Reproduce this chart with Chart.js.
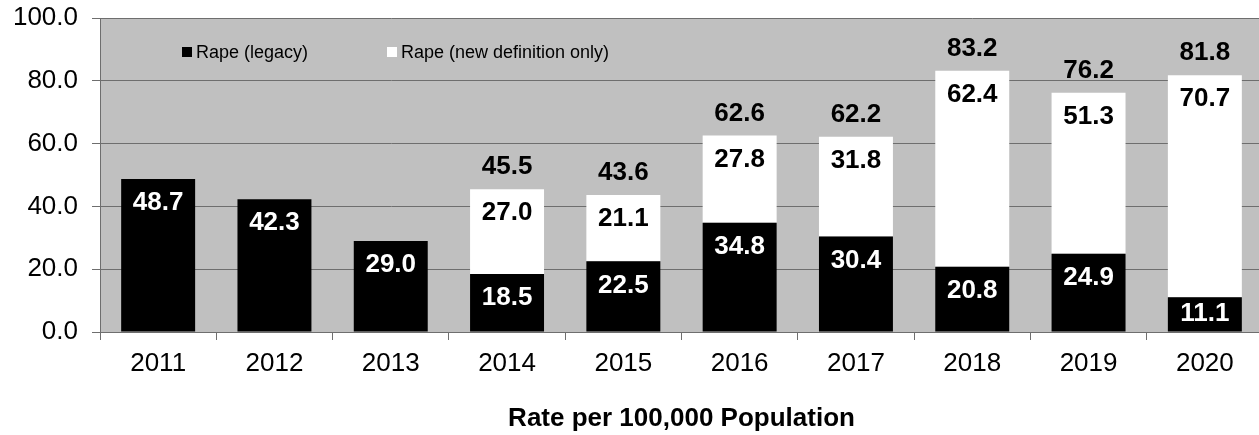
<!DOCTYPE html>
<html>
<head>
<meta charset="utf-8">
<script src="https://cdn.jsdelivr.net/npm/chart.js@4/dist/chart.umd.min.js"></script>
<style>
  html, body { margin: 0; padding: 0; background: #fff; overflow: hidden; }
  #wrap { width: 1263px; height: 435px; position: relative; }
</style>
</head>
<body>
<div id="wrap"><canvas id="rateChart"></canvas></div>
<script>
// Rape rate per 100,000 population, legacy vs new definition

const years = ["2011", "2012", "2013", "2014", "2015", "2016", "2017", "2018", "2019", "2020"];
const legacyRate = [48.7, 42.3, 29.0, 18.5, 22.5, 34.8, 30.4, 20.8, 24.9, 11.1];
const newDefRate = [null, null, null, 27.0, 21.1, 27.8, 31.8, 62.4, 51.3, 70.7];
const yTicks = [0, 20, 40, 60, 80, 100];

const plotGray = "#c0c0c0";
const gridGray = "#6e6e6e";
const fontFam = "'Liberation Sans', Arial, sans-serif";
const labelFont = "bold 26px " + fontFam;

// background of the plot area
const plotBackground = {
  id: "plotBackground",
  beforeDraw(chart) {
    const { ctx, chartArea } = chart;
    ctx.save();
    ctx.fillStyle = plotGray;
    ctx.fillRect(chartArea.left, chartArea.top, chartArea.right - chartArea.left, chartArea.bottom - chartArea.top);
    ctx.restore();
  }
};

// label inset from the top of a segment, centred if the segment is too short
function insideY(el) {
  const h = el.base - el.y;
  return h < 48 ? el.y + h / 2 : el.y + 24;
}

// values in the bars plus totals above the stacked ones
const barLabels = {
  id: "barLabels",
  afterDatasetsDraw(chart) {
    const ctx = chart.ctx;
    const legacyMeta = chart.getDatasetMeta(0);
    const newMeta = chart.getDatasetMeta(1);
    ctx.save();
    ctx.font = labelFont;
    ctx.textAlign = "center";
    ctx.textBaseline = "middle";
    years.forEach((yr, i) => {
      const lb = legacyMeta.data[i];
      ctx.fillStyle = "#ffffff";
      ctx.fillText(legacyRate[i].toFixed(1), lb.x, insideY(lb));
      if (newDefRate[i] != null) {
        const nb = newMeta.data[i];
        ctx.fillStyle = "#000000";
        ctx.fillText(newDefRate[i].toFixed(1), nb.x, insideY(nb));
        const total = legacyRate[i] + newDefRate[i];
        ctx.fillText(total.toFixed(1), nb.x, nb.y - 22);
      }
    });
    ctx.restore();
  }
};

// small legend sitting inside the plot area
const insideLegend = {
  id: "insideLegend",
  afterDraw(chart) {
    const ctx = chart.ctx;
    const left = chart.chartArea.left;
    const top = chart.chartArea.top;
    const items = [
      { text: chart.data.datasets[0].label, color: "#000000", x: left + 82 },
      { text: chart.data.datasets[1].label, color: "#ffffff", x: left + 287 }
    ];
    ctx.save();
    ctx.font = "18px " + fontFam;
    ctx.textBaseline = "middle";
    items.forEach(it => {
      ctx.fillStyle = it.color;
      ctx.fillRect(it.x, top + 29, 10, 10);
      ctx.fillStyle = "#000000";
      ctx.fillText(it.text, it.x + 14, top + 35);
    });
    ctx.restore();
  }
};

new Chart(document.getElementById("rateChart"), {
  type: "bar",
  data: {
    labels: years,
    datasets: [
      {
        label: "Rape (legacy)",
        data: legacyRate,
        backgroundColor: "#000000",
        borderWidth: 0
      },
      {
        label: "Rape (new definition only)",
        data: newDefRate,
        backgroundColor: "#ffffff",
        borderWidth: 0
      }
    ]
  },
  options: {
    responsive: true,
    maintainAspectRatio: false,
    animation: false,
    categoryPercentage: 1.0,
    barPercentage: 0.636,
    layout: {
      padding: { top: 18, right: 0, left: 0, bottom: 0 }
    },
    plugins: {
      legend: { display: false },
      tooltip: { enabled: false }
    },
    scales: {
      x: {
        stacked: true,
        grid: {
          offset: true,
          drawOnChartArea: false,
          drawTicks: true,
          tickLength: 8,
          color: gridGray
        },
        border: { color: gridGray, width: 1 },
        ticks: {
          color: "#000000",
          padding: 8,
          font: { family: fontFam, size: 26 }
        },
        title: {
          display: true,
          text: "Rate per 100,000 Population",
          color: "#000000",
          padding: { top: 10, bottom: 1 },
          font: { family: fontFam, size: 26, weight: "bold" }
        },
        afterFit(scale) {
          scale.height = 103;
          scale.paddingLeft = 0;
          scale.paddingRight = 0;
        }
      },
      y: {
        stacked: true,
        min: 0,
        max: 100,
        afterBuildTicks(scale) {
          scale.ticks = yTicks.map(v => ({ value: v }));
        },
        afterFit(scale) {
          scale.width = 100;
          scale.paddingTop = 0;
          scale.paddingBottom = 0;
        },
        grid: {
          color: gridGray,
          drawTicks: true,
          tickLength: 8
        },
        border: { color: gridGray, width: 1 },
        ticks: {
          color: "#000000",
          padding: 14,
          font: { family: fontFam, size: 26 },
          callback: v => Number(v).toFixed(1)
        }
      }
    }
  },
  plugins: [plotBackground, barLabels, insideLegend]
});
</script>
</body>
</html>
